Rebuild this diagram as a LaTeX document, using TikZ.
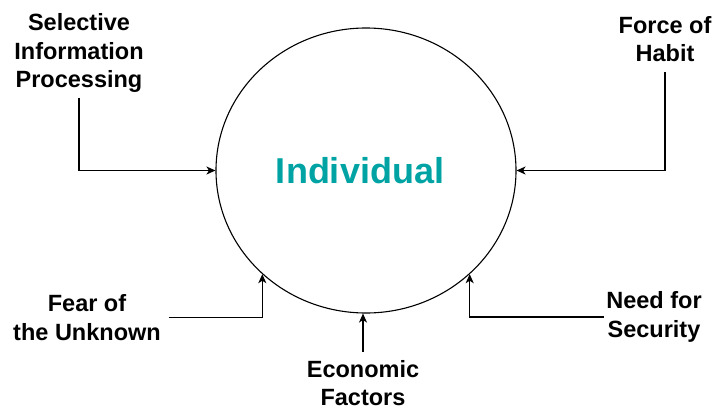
\documentclass[tikz,border=0pt]{standalone}
\usepackage{fontspec}
\setmainfont{Liberation Sans}
\usetikzlibrary{shapes.geometric,arrows.meta}
\definecolor{indteal}{RGB}{0,163,163}

\begin{document}
\begin{tikzpicture}[x=1pt,y=-1pt]
	\useasboundingbox (0,0) rectangle (717,410);
	\node[ellipse,draw,line width=1.1pt,minimum width=300pt,minimum height=285pt,inner sep=0pt] (ind) at (366,170.5) {};
	\node[text=indteal,font=\fontsize{36}{40}\selectfont\bfseries] (indtext) at (360,171) {Individual};
	\begin{scope}[every node/.style={align=center,inner sep=2pt,font=\fontsize{23.5}{28.5}\selectfont\bfseries}]
	\node (sel) at (79,53) {Selective\\Information\\Processing};
	\node (habit) at (665,39) {Force of\\Habit};
	\node (fear) at (87,317.5) {Fear of\\the Unknown};
	\node (need) at (654,317) {Need for\\Security};
	\node (eco) at (363,383) {Economic\\Factors};
	\end{scope}
	\begin{scope}[line width=1.1pt,-{Stealth[length=9pt,width=8pt,inset=2.5pt]}]
	\draw (sel.south) ++(0,3) |- (ind.west);
	\draw (habit.south) ++(0,8) |- (ind.east);
	\draw (fear.east) ++(6,0) -| (ind.225);
	\draw (need.west) -| (ind.-45);
	\draw (eco.north) ++(0,-6) -- (ind.south -| eco.north);
	\end{scope}
\end{tikzpicture}
\end{document}
